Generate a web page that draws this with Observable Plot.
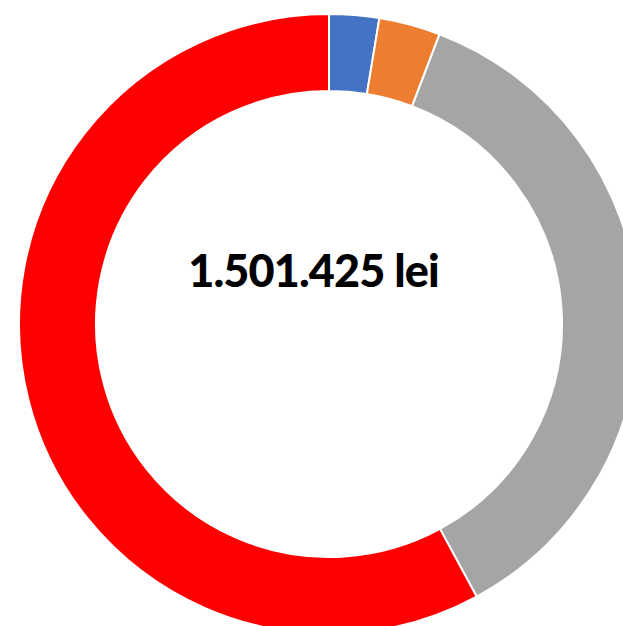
<!DOCTYPE html>
<html>
<head>
<meta charset="utf-8">
<script src="https://cdn.jsdelivr.net/npm/d3@7"></script>
<script src="https://cdn.jsdelivr.net/npm/@observablehq/plot@0.6"></script>
<style>
  html, body { margin: 0; padding: 0; background: #fff; }
  #chart { width: 623px; height: 626px; }
</style>
</head>
<body>
<div id="chart"></div>
<script>
// Data (shares of total, %)
const categories = ["A", "B", "C", "D"];
const shares = [2.6, 3.2, 36.3, 57.9];
const colors = ["#4472C4", "#ED7D31", "#A5A5A5", "#FF0000"];
const totalLabel = ["1.501.425 lei"];

const W = 623, H = 626;
const cx = 329, cy = 324, R = 310, r = 233;

const data = categories.map((c, i) => ({category: c, value: shares[i]}));
const arcs = d3.pie().sort(null).value(d => d.value)(data);

const donut = (index, scales) => {
  const x = scales.x, y = scales.y;
  const ox = x(0), oy = y(0);
  const outer = x(1) - x(0);
  const inner = outer * (r / R);
  const g = d3.create("svg:g").attr("transform", `translate(${ox},${oy})`);
  const arcGen = d3.arc().innerRadius(inner).outerRadius(outer);
  g.selectAll("path").data(arcs).join("path")
    .attr("d", arcGen)
    .attr("fill", d => scales.color(d.data.category))
    .attr("stroke", "#fff")
    .attr("stroke-width", 2)
    .attr("stroke-linejoin", "round");
  return g.node();
};

const chart = Plot.plot({
  width: W,
  height: H,
  margin: 0,
  x: {domain: [-cx / R, (W - cx) / R], range: [0, W], axis: null},
  y: {domain: [-(H - cy) / R, cy / R], range: [H, 0], axis: null},
  color: {domain: categories, range: colors},
  marks: [
    donut,
    Plot.text(totalLabel, {
      x: [-16 / R], y: [(cy - 272) / R], text: d => d,
      fontSize: 45, fontWeight: 900, fill: "#000",
      fontFamily: "Lato, 'DejaVu Sans', sans-serif"
    })
  ]
});
d3.select(chart).selectAll("text").style("letter-spacing", "-0.9px");
document.getElementById("chart").appendChild(chart);
</script>
</body>
</html>
